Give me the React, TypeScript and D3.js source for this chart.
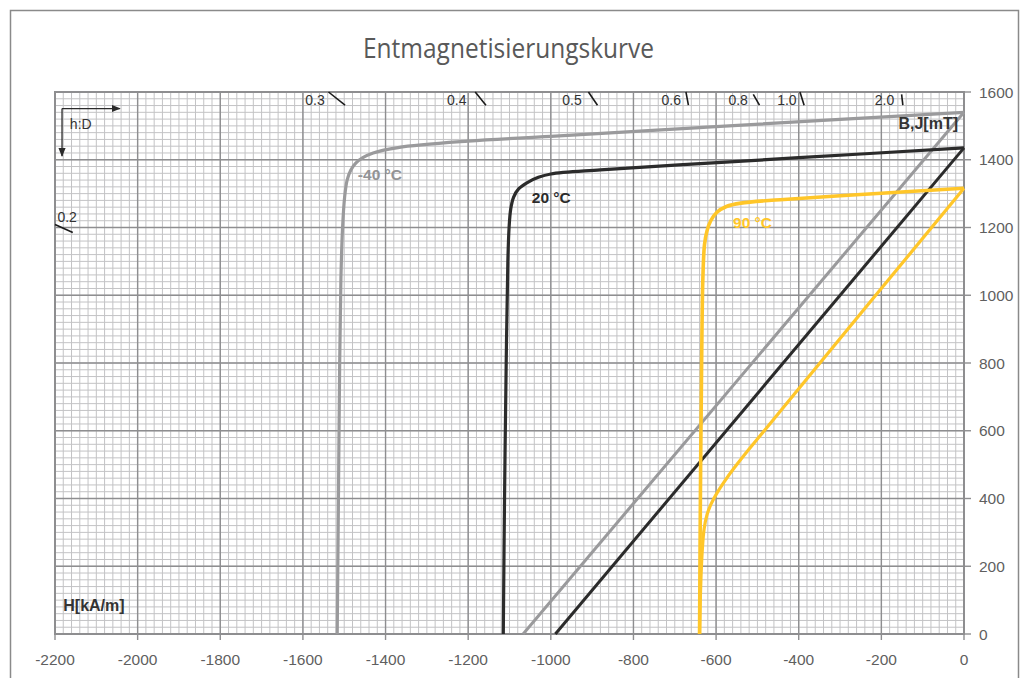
import React from "react";
import * as d3 from "d3";

const width = 1029,
  height = 678;

// axis ticks
const hTicks = [-2200, -2000, -1800, -1600, -1400, -1200, -1000, -800, -600, -400, -200, 0];
const bTicks = [0, 200, 400, 600, 800, 1000, 1200, 1400, 1600];

// J curves [H kA/m, J mT]
const jMinus40 = [
  [0, 1540], [-300, 1519], [-640, 1495], [-1000, 1469], [-1200, 1455], [-1370, 1436],
  [-1430, 1420], [-1455, 1406], [-1472, 1390], [-1484, 1370], [-1493, 1340], [-1499, 1290],
  [-1504, 1200], [-1508, 1050], [-1511, 800], [-1514, 400], [-1517, 0],
];
const j20 = [
  [0, 1435], [-400, 1406], [-690, 1385], [-880, 1370], [-1000, 1358], [-1030, 1348],
  [-1058, 1332], [-1078, 1314], [-1090, 1290], [-1097, 1255], [-1101, 1200], [-1104, 1100],
  [-1108, 800], [-1112, 400], [-1115, 0],
];
const j90 = [
  [0, 1316], [-200, 1301], [-445, 1282], [-540, 1272], [-575, 1262], [-598, 1245],
  [-613, 1220], [-622, 1190], [-628, 1150], [-632, 1050], [-635, 800], [-638, 400], [-640, 0],
];

// B curves [H kA/m, B mT]
const bMinus40 = [[0, 1540], [-1067, 0]];
const b20 = [[0, 1435], [-989, 0]];
const b90 = [
  [0, 1316], [-400, 724], [-520, 546], [-555, 492], [-580, 450], [-598, 416], [-612, 384],
  [-622, 352], [-629, 310], [-633, 255], [-636, 185], [-638, 110], [-640, 0],
];

// h:D marks (load line stubs) in data units
const hdMarks = [
  { label: "0.2", h0: -2200, b0: 1209, h1: -2157, b1: 1185, th: -2147, tb: 1216 },
  { label: "0.3", h0: -1538, b0: 1600, h1: -1498, b1: 1561, th: -1547, tb: 1562 },
  { label: "0.4", h0: -1183, b0: 1600, h1: -1157, b1: 1561, th: -1204, tb: 1562 },
  { label: "0.5", h0: -909, b0: 1600, h1: -887, b1: 1561, th: -925, tb: 1562 },
  { label: "0.6", h0: -673, b0: 1600, h1: -667, b1: 1561, th: -685, tb: 1562 },
  { label: "0.8", h0: -510, b0: 1593, h1: -495, b1: 1561, th: -523, tb: 1562 },
  { label: "1.0", h0: -397, b0: 1600, h1: -387, b1: 1561, th: -405, tb: 1562 },
  { label: "2.0", h0: -151, b0: 1593, h1: -148, b1: 1561, th: -169, tb: 1562 },
];

const tempLabels = [
  { text: "-40 °C", h: -1467, b: 1340, color: "#939395" },
  { text: "20 °C", h: -1046, b: 1272, color: "#2b2b2b" },
  { text: "90 °C", h: -559, b: 1199, color: "#ffc629" },
];

const series = [
  { data: bMinus40, color: "#9a9a9c", w: 3 },
  { data: jMinus40, color: "#9a9a9c", w: 3.2 },
  { data: b20, color: "#2b2b2b", w: 3 },
  { data: j20, color: "#2b2b2b", w: 3.2 },
  { data: b90, color: "#ffc629", w: 3.2 },
  { data: j90, color: "#ffc629", w: 3.6 },
];

const x = d3.scaleLinear().domain([-2200, 0]).range([55, 964]);
const y = d3.scaleLinear().domain([0, 1600]).range([634, 92]);

const line = d3
  .line<number[]>()
  .x(d => x(d[0]))
  .y(d => y(d[1]))
  .curve(d3.curveCatmullRom.alpha(0.5));

const font = "'Liberation Sans', Arial, sans-serif";

export default function App() {
  const minorH = d3.range(-2200, 1, 20);
  const minorB = d3.range(0, 1601, 20);
  const [x0, x1] = x.range();
  const [y0, y1] = y.range();

  return (
    <svg
      width={width}
      height={height}
      style={{ position: "absolute", left: 0, top: 0, display: "block", background: "#fff" }}
    >
      <defs>
        <marker id="arr" viewBox="0 0 10 10" refX="9" refY="5" markerWidth="7" markerHeight="7" orient="auto">
          <path d="M0,1 L10,5 L0,9 z" fill="#2b2b2b" />
        </marker>
      </defs>
      <rect x={10.5} y={10.5} width={1008} height={700} fill="#fff" stroke="#8a8a8a" strokeWidth={1.5} />

      <text
        x={508.5}
        y={58}
        textAnchor="middle"
        fontFamily="'Open Sans', sans-serif"
        fontSize={27}
        fill="#595959"
        textLength={291}
        lengthAdjust="spacingAndGlyphs"
      >
        Entmagnetisierungskurve
      </text>

      {/* minor grid */}
      <g stroke="#c3c3c5" strokeWidth={1}>
        {minorH.map(v => (
          <line key={"mh" + v} x1={x(v)} x2={x(v)} y1={y1} y2={y0} />
        ))}
        {minorB.map(v => (
          <line key={"mb" + v} x1={x0} x2={x1} y1={y(v)} y2={y(v)} />
        ))}
      </g>
      {/* major grid */}
      <g stroke="#8e8e90" strokeWidth={1.4}>
        {hTicks.map(v => (
          <line key={"Mh" + v} x1={x(v)} x2={x(v)} y1={y1} y2={y0} />
        ))}
        {bTicks.map(v => (
          <line key={"Mb" + v} x1={x0} x2={x1} y1={y(v)} y2={y(v)} />
        ))}
      </g>
      <rect x={x0} y={y1} width={x1 - x0} height={y0 - y1} fill="none" stroke="#8e8e90" strokeWidth={2} />

      {/* axis ticks and labels */}
      <g fontFamily={font} fontSize={15.5} fill="#5f5f5f">
        {hTicks.map(v => (
          <g key={"th" + v}>
            <line x1={x(v)} x2={x(v)} y1={y0} y2={y0 + 6} stroke="#8e8e90" strokeWidth={1.4} />
            <text x={x(v)} y={665} textAnchor="middle">
              {v}
            </text>
          </g>
        ))}
        {bTicks.map(v => (
          <g key={"tb" + v}>
            <line x1={x1} x2={x1 + 7} y1={y(v)} y2={y(v)} stroke="#8e8e90" strokeWidth={1.4} />
            <text x={979} y={y(v)} dy="0.36em" textAnchor="start">
              {v}
            </text>
          </g>
        ))}
      </g>

      {/* curves */}
      <g fill="none" strokeLinejoin="round" strokeLinecap="butt">
        {series.map((s, i) => (
          <path key={i} d={line(s.data) || ""} stroke={s.color} strokeWidth={s.w} />
        ))}
      </g>

      {/* h:D stubs */}
      <g fontFamily={font} fontSize={14} fill="#333">
        {hdMarks.map(m => (
          <g key={m.label}>
            <line x1={x(m.h0)} y1={y(m.b0)} x2={x(m.h1)} y2={y(m.b1)} stroke="#1a1a1a" strokeWidth={1.6} />
            <text x={x(m.th)} y={y(m.tb)} textAnchor="end">
              {m.label}
            </text>
          </g>
        ))}
      </g>

      {/* h:D arrows */}
      <g stroke="#2b2b2b" strokeWidth={1.3}>
        <line x1={x(-2183)} y1={y(1551)} x2={x(-2043)} y2={y(1551)} markerEnd="url(#arr)" />
        <line x1={x(-2183)} y1={y(1551)} x2={x(-2183)} y2={y(1411)} markerEnd="url(#arr)" />
      </g>
      <text x={x(-2164)} y={y(1492)} fontFamily={font} fontSize={14} fill="#333">
        h:D
      </text>

      {/* axis titles */}
      <text x={x(-2180)} y={611} fontFamily={font} fontSize={16} fontWeight="bold" fill="#333">
        H[kA/m]
      </text>
      <text x={958} y={129} textAnchor="end" fontFamily={font} fontSize={16} fontWeight="bold" fill="#333">
        B,J[mT]
      </text>

      {/* temperature labels */}
      {tempLabels.map(t => (
        <text
          key={t.text}
          x={x(t.h)}
          y={y(t.b)}
          fontFamily={font}
          fontSize={15.5}
          fontWeight="bold"
          fill={t.color}
        >
          {t.text}
        </text>
      ))}
    </svg>
  );
}
